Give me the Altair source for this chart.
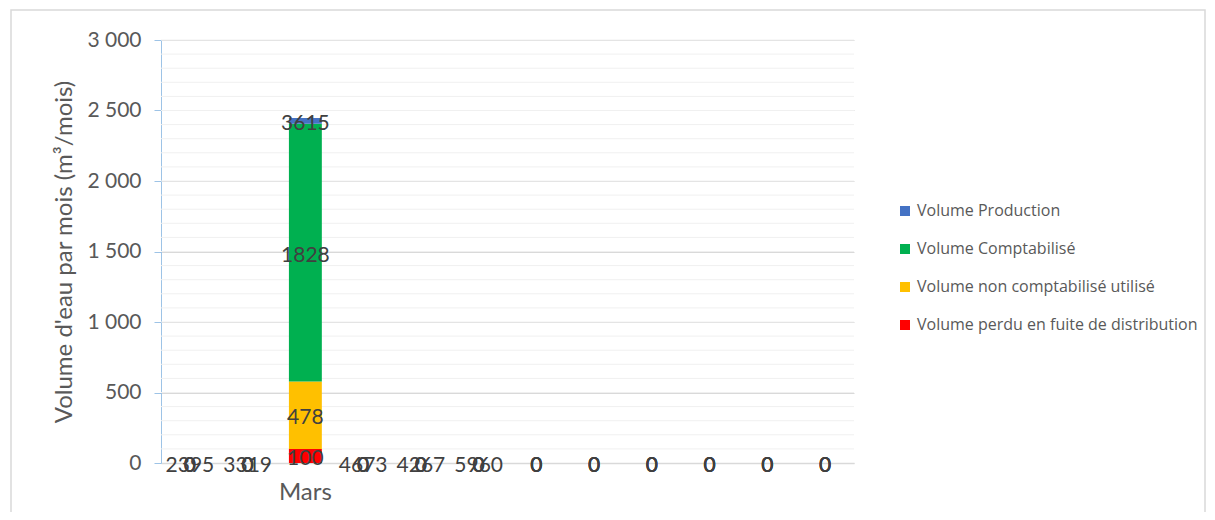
import altair as alt
import pandas as pd

mois = ["Janvier", "Février", "Mars", "Avril", "Mai", "Juin",
        "Juillet", "Août", "Septembre", "Octobre", "Novembre", "Décembre"]
series = ["Volume Production", "Volume Comptabilisé",
          "Volume non comptabilisé utilisé", "Volume perdu en fuite de distribution"]
colors = ["#4472C4", "#00B050", "#FFC000", "#FF0000"]

# bar heights (m3/mois) as drawn
production_bar = [0, 0, 40, 0, 0, 0, 0, 0, 0, 0, 0, 0]
comptabilise = [0, 0, 1828, 0, 0, 0, 0, 0, 0, 0, 0, 0]
non_comptabilise = [0, 0, 478, 0, 0, 0, 0, 0, 0, 0, 0, 0]
perdu = [0, 0, 100, 0, 0, 0, 0, 0, 0, 0, 0, 0]
# data labels as displayed
production_label = [2395, 3319, 3615, 4673, 4267, 5960, 0, 0, 0, 0, 0, 0]
y_ticks = [0, 500, 1000, 1500, 2000, 2500, 3000]
y_minor = list(range(100, 3001, 100))

rows = []
for i, m in enumerate(mois):
    rows.append({"mois": m, "serie": series[0], "ordre": 3, "v": production_bar[i], "lab": production_label[i]})
    rows.append({"mois": m, "serie": series[1], "ordre": 2, "v": comptabilise[i], "lab": comptabilise[i]})
    rows.append({"mois": m, "serie": series[2], "ordre": 1, "v": non_comptabilise[i], "lab": non_comptabilise[i]})
    rows.append({"mois": m, "serie": series[3], "ordre": 0, "v": perdu[i], "lab": perdu[i]})
df = pd.DataFrame(rows)

FONT = "Lato"
W, H = 693, 423

yscale = alt.Scale(domain=[0, 3000], nice=False)
yaxis = alt.Axis(title="Volume d'eau par mois (m³/mois)", values=y_ticks,
                 labelExpr="replace(format(datum.value, ','), /,/g, ' ')",
                 labelFontSize=21, labelColor="#595959", labelFont=FONT, labelPadding=13,
                 titleFontSize=24, titleColor="#595959", titleFont=FONT, titleFontWeight="normal",
                 titlePadding=10, domainColor="#9DC3E6", tickColor="#9DC3E6", tickSize=7,
                 gridColor="#D9D9D9")

base = alt.Chart(df).transform_stack(
    stack="v", groupby=["mois"], sort=[alt.SortField("ordre", order="ascending")], as_=["y0", "y1"]
).transform_calculate(mid="(datum.y0 + datum.y1) / 2")

xenc = alt.X("mois:N", sort=mois, scale=alt.Scale(paddingInner=0.43, paddingOuter=0.215),
             axis=alt.Axis(title=None, labelExpr="datum.value == 'Mars' ? datum.value : ''",
                           labelAngle=0, labelFontSize=24, labelColor="#595959", labelFont=FONT,
                           labelPadding=17, ticks=False, domainColor="#D9D9D9", domainWidth=1.5,
                           grid=False))

minor = alt.Chart(pd.DataFrame({"g": y_minor})).mark_rule(
    color="#F0F0F0", strokeWidth=1).encode(y=alt.Y("g:Q", scale=yscale, axis=yaxis))

bars = base.mark_bar().encode(
    x=xenc,
    y=alt.Y("y0:Q", scale=yscale, axis=yaxis),
    y2="y1:Q",
    color=alt.Color("serie:N", scale=alt.Scale(domain=series, range=colors),
                    legend=alt.Legend(title=None, orient="none", legendX=736, legendY=163,
                                      symbolType="square", symbolSize=100, symbolStrokeWidth=0,
                                      labelFontSize=16, labelColor="#595959", labelFont="Open Sans",
                                      rowPadding=22, labelOffset=4, labelLimit=400)),
    order=alt.Order("ordre:Q"),
)

labels = base.mark_text(fontSize=21, color="#404040", font=FONT, baseline="middle", dy=3).encode(
    x=alt.X("mois:N", sort=mois),
    y=alt.Y("mid:Q", scale=yscale),
    text=alt.Text("lab:Q", format="d"),
)

frame = alt.Chart(pd.DataFrame({"a": [0]})).mark_rect(
    fill=None, stroke="#D9D9D9", strokeWidth=1.5).encode(
    x=alt.value(-150), x2=alt.value(1044), y=alt.value(-30), y2=alt.value(474))

chart = alt.layer(frame, minor, bars, labels).properties(
    width=W, height=H,
    autosize=alt.AutoSizeParams(type="none"),
    padding={"left": 153, "top": 32, "right": 353, "bottom": 49},
).configure(background="white").configure_view(strokeWidth=0, stroke=None)

chart.save("out.html", embed_options={"renderer": "svg", "actions": False})
